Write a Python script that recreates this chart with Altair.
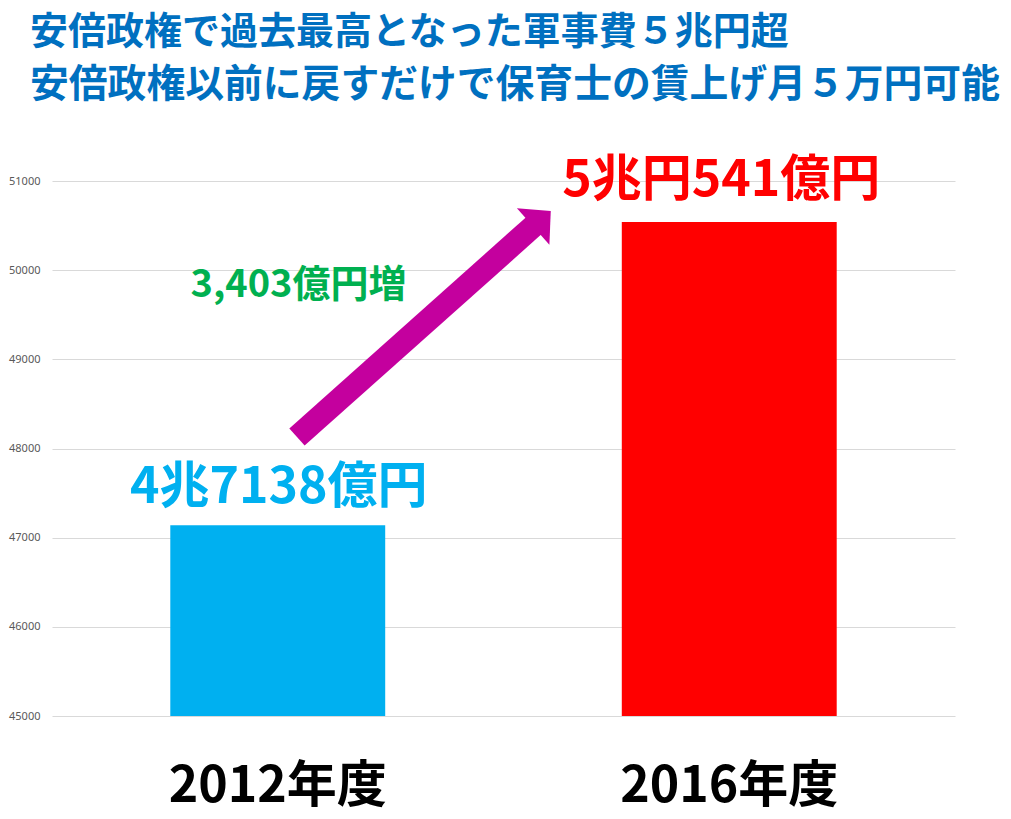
import altair as alt
import pandas as pd

# ---- data ----
categories = ["2012年度", "2016年度"]
values = [47138, 50541]
value_labels = ["4兆7138億円", "5兆円541億円"]
bar_colors = ["#00B0F0", "#FF0000"]
y_ticks = [45000, 46000, 47000, 48000, 49000, 50000, 51000]

# annotation (arrow + increase label), x in fraction of plot width, y in data units
arrow_x = [0.2713, 0.5351]
arrow_y = [48129, 50512]
arrow_head_x = [0.5426]
arrow_head_y = [50577]
increase_text = ["3,403億円増"]
increase_x = [0.273]
increase_y = [49699]

title_line1 = "安倍政権で過去最高となった軍事費５兆円超"
title_line2 = "安倍政権以前に戻すだけで保育士の賃上げ月５万円可能"

FONT = "Noto Sans CJK JP"

bars_df = pd.DataFrame({"cat": categories, "value": values,
                        "label": value_labels, "color": bar_colors})

x_enc = alt.X("cat:N", sort=categories, title=None,
              scale=alt.Scale(paddingInner=0.524, paddingOuter=0.262),
              axis=alt.Axis(labelFont=FONT, labelFontSize=50, labelFontWeight="bold",
                            labelColor="#000000", labelAngle=0, labelPadding=45,
                            labelLimit=0, domain=False, ticks=False, grid=False))
y_enc = alt.Y("value:Q", title=None,
              scale=alt.Scale(domain=[45000, 51000], nice=False, zero=False),
              axis=alt.Axis(values=y_ticks, format="d", labelFont="Noto Sans",
                            labelFontSize=11, labelColor="#595959", labelPadding=12,
                            domain=False, ticks=False, gridColor="#D9D9D9", gridWidth=1))

base = alt.Chart(bars_df)
bars = base.mark_bar(clip=True).encode(
    x=x_enc, y=y_enc, y2=alt.datum(45000),
    color=alt.Color("color:N", scale=None))

label_layers = []
offsets = {value_labels[0]: (1, -22), value_labels[1]: (-8, -26)}
for lab, col in zip(value_labels, bar_colors):
    dx, dy = offsets[lab]
    label_layers.append(
        base.transform_filter(alt.datum.label == lab).mark_text(
            font=FONT, fontSize=50, fontWeight="bold", color=col,
            baseline="alphabetic", align="center", dx=dx, dy=dy
        ).encode(x=alt.X("cat:N", sort=categories), y="value:Q", text="label:N"))

bar_part = alt.layer(bars, *label_layers)

ann_x_scale = alt.Scale(domain=[0, 1], nice=False, zero=False)
arrow_df = pd.DataFrame({"x": [arrow_x[0]], "y": [arrow_y[0]],
                         "x2": [arrow_x[1]], "y2": [arrow_y[1]]})
shaft = alt.Chart(arrow_df).mark_rule(color="#C4009E", strokeWidth=23, strokeCap="butt").encode(
    x=alt.X("x:Q", scale=ann_x_scale, axis=None),
    y=alt.Y("y:Q"), x2="x2:Q", y2="y2:Q")
head_df = pd.DataFrame({"x": arrow_head_x, "y": arrow_head_y})
head = alt.Chart(head_df).mark_point(
    shape="M-1,0.48L0,-0.48L1,0.48Z", size=2401, angle=48.5, filled=True,
    color="#C4009E", opacity=1, strokeWidth=0).encode(
    x=alt.X("x:Q", scale=ann_x_scale, axis=None), y=alt.Y("y:Q"))
inc_df = pd.DataFrame({"x": increase_x, "y": increase_y, "t": increase_text})
inc = alt.Chart(inc_df).mark_text(
    font=FONT, fontSize=38, fontWeight="bold", color="#00B050",
    align="center", baseline="alphabetic").encode(
    x=alt.X("x:Q", scale=ann_x_scale, axis=None), y=alt.Y("y:Q"), text="t:N")

ann_part = alt.layer(shaft, head, inc)

chart = alt.layer(bar_part, ann_part).resolve_scale(x="independent").properties(
    width=903, height=535,
    autosize=alt.AutoSizeParams(type="none"),
    padding={"left": 44, "top": 173, "right": 48, "bottom": 95},
    title=alt.TitleParams(text=title_line1, subtitle=title_line2,
                          font=FONT, fontSize=38, fontWeight="bold", color="#0070C0",
                          subtitleFont=FONT, subtitleFontSize=38.8,
                          subtitleFontWeight="bold", subtitleColor="#0070C0",
                          subtitlePadding=14,
                          anchor="start", frame="group", dx=-22, offset=51),
    background="white",
).configure_view(stroke=None)

chart.save("out.html", embed_options={"renderer": "svg", "actions": False})
